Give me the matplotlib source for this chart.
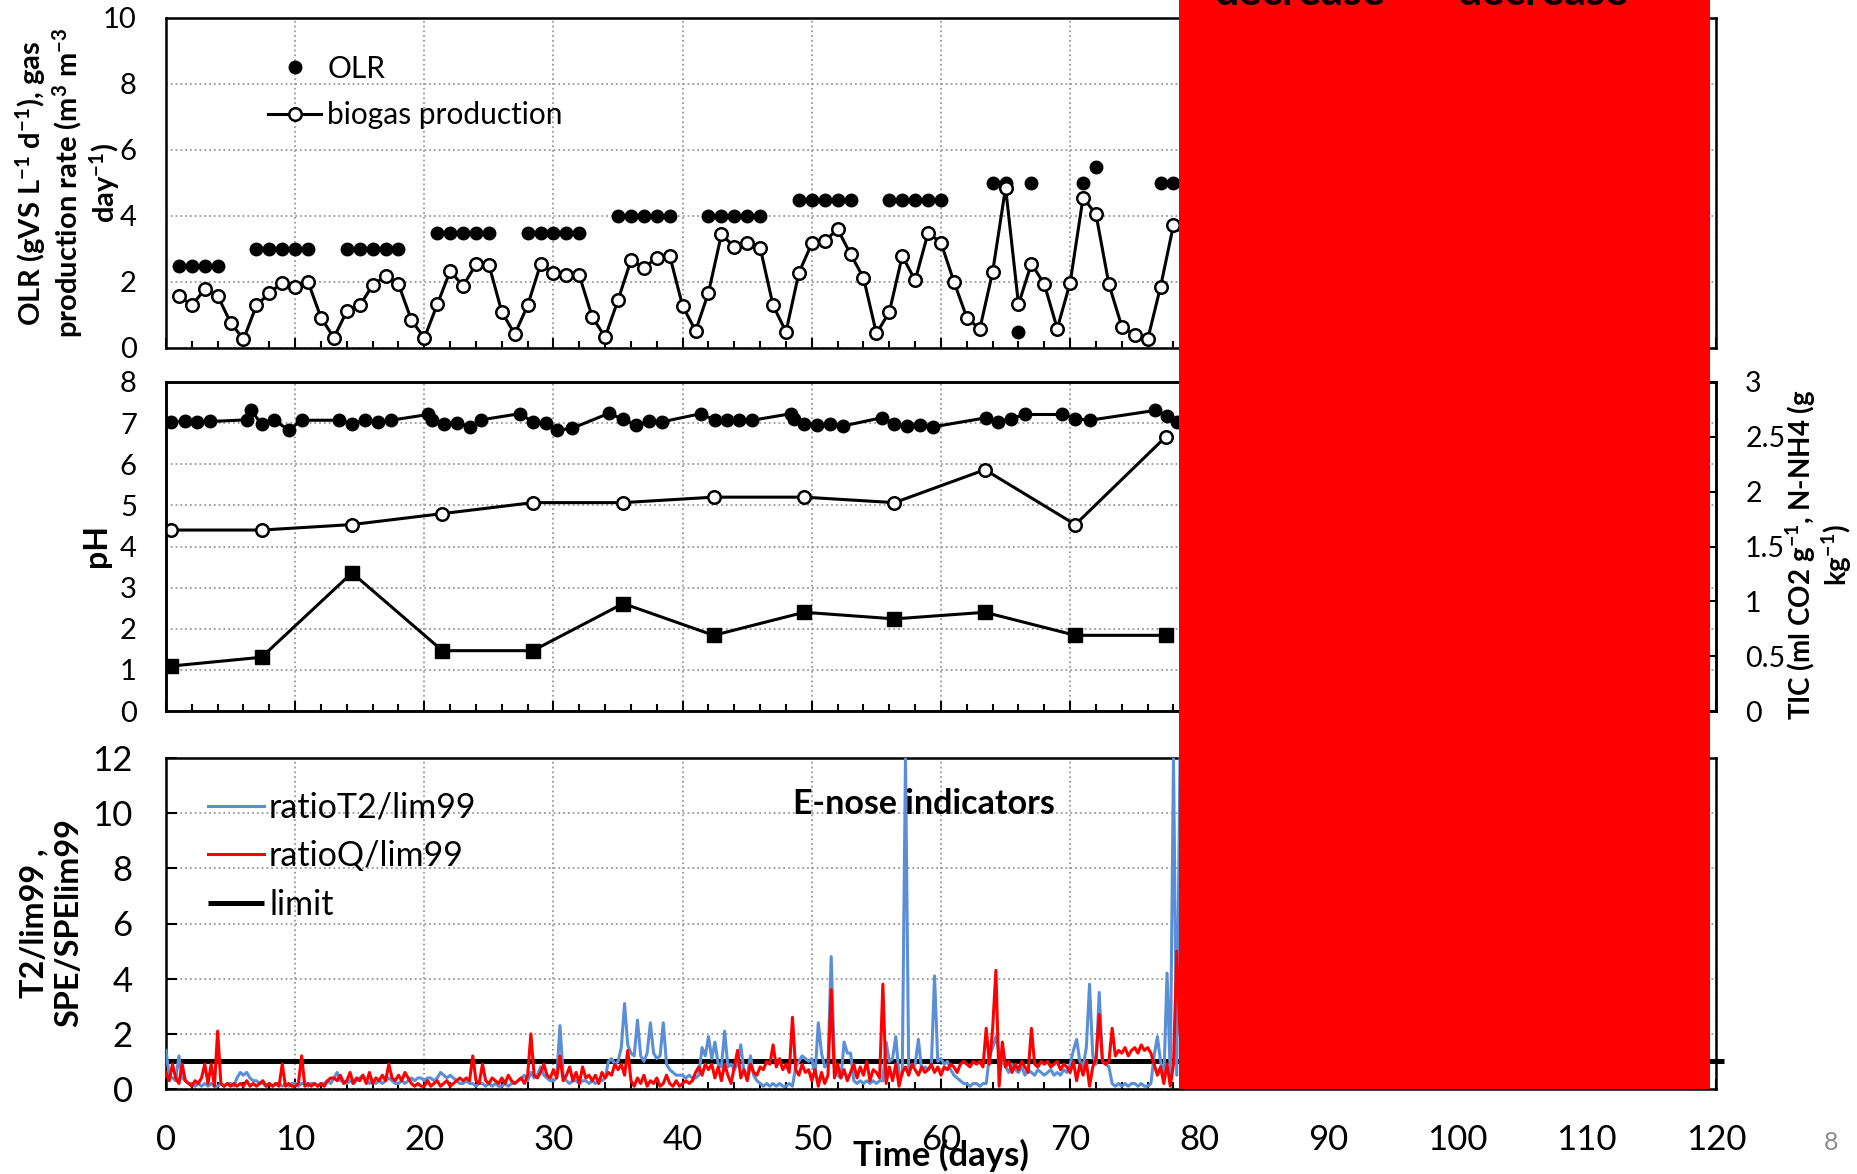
import numpy as np
import matplotlib
matplotlib.use("Agg")
import matplotlib.pyplot as plt
from matplotlib.patches import Rectangle
from matplotlib.lines import Line2D
from matplotlib.ticker import MultipleLocator, FuncFormatter

plt.rcParams['font.family'] = ['Lato', 'DejaVu Sans']
plt.rcParams['mathtext.fontset'] = 'custom'
plt.rcParams['mathtext.rm'] = 'Lato'
plt.rcParams['mathtext.bf'] = 'Lato:bold'
plt.rcParams['mathtext.default'] = 'bf'

# ---- top panel: OLR and biogas production ----
biogas_day = list(range(1, 80))
biogas = [1.58, 1.29, 1.78, 1.58, 0.77, 0.26, 1.29, 1.66, 1.98, 1.86,
          2.00, 0.92, 0.31, 1.12, 1.29, 1.90, 2.18, 1.93, 0.85, 0.30,
          1.32, 2.33, 1.88, 2.54, 2.52, 1.09, 0.42, 1.29, 2.54, 2.26,
          2.20, 2.20, 0.94, 0.33, 1.46, 2.66, 2.43, 2.74, 2.79, 1.27,
          0.52, 1.68, 3.44, 3.07, 3.17, 3.04, 1.29, 0.49, 2.28, 3.17,
          3.24, 3.60, 2.84, 2.13, 0.44, 1.09, 2.79, 2.05, 3.49, 3.19,
          2.01, 0.92, 0.57, 2.31, 4.86, 1.32, 2.56, 1.93, 0.59, 1.98,
          4.56, 4.05, 1.93, 0.65, 0.38, 0.26, 1.86, 3.73, 3.37]

olr_day = [1, 2, 3, 4, 7, 8, 9, 10, 11, 14, 15, 16, 17, 18,
           21, 22, 23, 24, 25, 28, 29, 30, 31, 32, 35, 36, 37, 38, 39,
           42, 43, 44, 45, 46, 49, 50, 51, 52, 53, 56, 57, 58, 59, 60,
           64, 65, 66, 67, 71, 72, 77, 78]
olr = [2.5, 2.5, 2.5, 2.5, 3.0, 3.0, 3.0, 3.0, 3.0, 3.0, 3.0, 3.0, 3.0, 3.0,
       3.5, 3.5, 3.5, 3.5, 3.5, 3.5, 3.5, 3.5, 3.5, 3.5, 4.0, 4.0, 4.0, 4.0, 4.0,
       4.0, 4.0, 4.0, 4.0, 4.0, 4.5, 4.5, 4.5, 4.5, 4.5, 4.5, 4.5, 4.5, 4.5, 4.5,
       5.0, 5.0, 0.5, 5.0, 5.0, 5.5, 5.0, 5.0]

# ---- middle panel: pH, TIC, N-NH4 ----
ph_day = [0.4, 1.5, 2.4, 3.4, 6.3, 6.6, 7.4, 8.4, 9.5, 10.5,
          13.4, 14.4, 15.4, 16.4, 17.4, 20.3, 20.6, 21.5, 22.5, 23.5, 24.4,
          27.4, 28.4, 29.4, 30.3, 31.4, 34.3, 35.4, 36.4, 37.4, 38.4,
          41.4, 42.5, 43.4, 44.4, 45.4, 48.4, 48.6, 49.4, 50.4, 51.4, 52.4,
          55.4, 56.4, 57.4, 58.4, 59.4, 63.5, 64.4, 65.4, 66.5,
          69.4, 70.4, 71.5, 76.6, 77.5, 78.3]
ph = [7.03, 7.04, 7.03, 7.04, 7.08, 7.31, 6.97, 7.07, 6.83, 7.07,
      7.07, 6.99, 7.07, 7.03, 7.07, 7.21, 7.08, 6.99, 7.01, 6.91, 7.08,
      7.23, 7.03, 7.00, 6.83, 6.87, 7.24, 7.09, 6.95, 7.04, 7.03,
      7.23, 7.07, 7.07, 7.07, 7.07, 7.23, 7.09, 6.97, 6.95, 6.97, 6.93,
      7.13, 6.99, 6.92, 6.95, 6.91, 7.13, 7.03, 7.11, 7.21,
      7.21, 7.11, 7.07, 7.31, 7.17, 7.03]

week_day = [0.4, 7.4, 14.4, 21.4, 28.4, 35.4, 42.4, 49.4, 56.4, 63.4, 70.4, 77.4]
tic = [1.65, 1.65, 1.70, 1.80, 1.90, 1.90, 1.95, 1.95, 1.90, 2.20, 1.70, 2.50]
nh4 = [0.41, 0.49, 1.26, 0.55, 0.55, 0.98, 0.69, 0.90, 0.84, 0.90, 0.69, 0.69]

# ---- bottom panel: E-nose indicators (tenths, every 0.25 day) ----
ratio_q = [
    6, 3, 9, 4, 2, 9, 3, 2, 1, 3, 2, 4, 9, 2, 9, 1, 21, 2, 1, 2,
    1, 2, 1, 2, 1, 3, 1, 2, 1, 2, 3, 1, 2, 1, 2, 1, 9, 1, 2, 1,
    1, 2, 12, 1, 2, 1, 2, 1, 2, 1, 3, 4, 4, 3, 5, 2, 3, 6, 2, 4,
    3, 5, 2, 6, 2, 4, 3, 5, 3, 9, 4, 3, 5, 3, 6, 4, 2, 1, 2, 1,
    1, 3, 1, 2, 3, 1, 2, 3, 1, 2, 3, 4, 3, 4, 3, 12, 3, 2, 9, 3,
    2, 4, 3, 2, 4, 2, 5, 3, 2, 3, 4, 2, 5, 20, 5, 4, 6, 9, 5, 4,
    7, 4, 12, 3, 5, 8, 3, 6, 2, 8, 4, 5, 3, 5, 2, 6, 4, 6, 5, 9,
    7, 9, 5, 14, 3, 1, 4, 2, 5, 1, 3, 2, 4, 1, 2, 5, 2, 1, 3, 1,
    2, 3, 2, 3, 6, 8, 5, 9, 7, 9, 4, 8, 3, 9, 5, 2, 8, 14, 4, 7,
    3, 9, 6, 5, 8, 7, 10, 9, 16, 8, 11, 7, 9, 6, 26, 7, 5, 9, 6, 7,
    3, 7, 1, 6, 2, 5, 36, 4, 9, 4, 7, 3, 6, 9, 4, 8, 5, 10, 3, 7,
    6, 4, 38, 2, 8, 3, 9, 1, 6, 8, 5, 9, 7, 5, 8, 6, 7, 9, 6, 8,
    5, 8, 7, 9, 8, 6, 9, 10, 9, 8, 10, 9, 10, 8, 22, 9, 22, 43, 1, 17,
    8, 10, 6, 9, 7, 10, 8, 6, 22, 9, 8, 10, 9, 10, 8, 9, 10, 7, 9, 8,
    6, 10, 3, 9, 5, 10, 1, 8, 11, 27, 10, 9, 10, 22, 12, 14, 13, 15, 12, 14,
    15, 13, 16, 14, 15, 13, 9, 5, 8, 2, 9, 1, 9, 50, 20]
ratio_t2 = [
    14, 5, 4, 3, 12, 4, 3, 2, 2, 1, 2, 1, 2, 1, 2, 1, 1, 2, 1, 2,
    2, 1, 4, 6, 5, 6, 4, 3, 3, 2, 2, 1, 2, 1, 2, 2, 1, 2, 1, 2,
    2, 1, 2, 2, 1, 2, 2, 1, 2, 2, 3, 2, 4, 6, 3, 3, 2, 3, 2, 3,
    4, 5, 3, 2, 3, 2, 3, 2, 3, 4, 3, 2, 2, 3, 2, 3, 4, 3, 4, 4,
    3, 4, 4, 3, 4, 6, 5, 4, 5, 4, 3, 2, 2, 3, 2, 2, 1, 2, 2, 1,
    2, 1, 2, 1, 1, 2, 1, 2, 2, 3, 4, 5, 3, 6, 4, 5, 8, 5, 4, 3,
    3, 4, 23, 5, 3, 2, 3, 3, 2, 3, 3, 2, 3, 2, 3, 3, 4, 10, 11, 9,
    10, 15, 31, 16, 13, 12, 25, 12, 10, 13, 24, 13, 11, 12, 24, 9, 7, 6, 5, 5,
    5, 4, 5, 4, 4, 5, 15, 12, 19, 11, 17, 9, 8, 21, 8, 9, 7, 9, 16, 6,
    5, 12, 5, 3, 2, 1, 2, 1, 2, 1, 2, 1, 1, 2, 1, 8, 10, 12, 11, 10,
    11, 5, 24, 13, 8, 9, 48, 8, 5, 4, 17, 13, 13, 3, 2, 3, 2, 3, 2, 3,
    2, 3, 3, 17, 10, 11, 19, 5, 5, 120, 7, 8, 9, 18, 7, 8, 7, 8, 41, 10,
    11, 9, 10, 7, 5, 4, 3, 2, 2, 1, 2, 2, 1, 2, 2, 12, 15, 19, 13, 10,
    8, 6, 9, 7, 6, 8, 5, 7, 6, 5, 7, 6, 5, 6, 7, 5, 6, 5, 7, 6,
    9, 14, 18, 10, 8, 15, 38, 12, 9, 35, 10, 9, 8, 2, 1, 2, 1, 2, 1, 2,
    2, 1, 2, 1, 1, 2, 12, 19, 10, 3, 42, 5, 120, 5, 120]
enose_t = np.arange(len(ratio_q)) * 0.25

x_ticks = [0, 10, 20, 30, 40, 50, 60, 70, 80, 90, 100, 110, 120]

W, H = 1858, 1174
fig = plt.figure(figsize=(W / 100, H / 100), dpi=100)


def box(top, bottom):
    return [166 / W, 1 - bottom / H, (1716 - 166) / W, (bottom - top) / H]


ax1 = fig.add_axes(box(18, 348))
ax2 = fig.add_axes(box(382, 711))
ax3 = fig.add_axes(box(758, 1089))

for ax in (ax1, ax2, ax3):
    ax.set_xlim(0, 120)
    ax.set_xticks(x_ticks)
    ax.xaxis.set_minor_locator(MultipleLocator(2))
    ax.tick_params(axis='x', which='both', direction='in', width=1.5)
    ax.tick_params(axis='x', which='major', length=7)
    ax.tick_params(axis='x', which='minor', length=5)
    ax.tick_params(axis='y', direction='in', length=0, pad=21, labelsize=21)
    ax.grid(True, which='major', color='#9a9a9a', linestyle=':', linewidth=1.3)
    ax.set_axisbelow(True)
    for s in ax.spines.values():
        s.set_linewidth(1.8)

ax1.tick_params(axis='x', labelbottom=False)
ax2.tick_params(axis='x', labelbottom=False)
ax3.tick_params(axis='x', labelsize=25, pad=25)
ax3.tick_params(axis='y', labelsize=25, pad=24, length=8, width=1.5)

# top panel
ax1.set_ylim(0, 10)
ax1.set_yticks([0, 2, 4, 6, 8, 10])
ax1.plot(olr_day, olr, 'o', color='black', markersize=9, zorder=3)
ax1.plot(biogas_day, biogas, '-o', color='black', lw=2.2, markersize=9,
         markerfacecolor='white', markeredgewidth=1.8, zorder=4)
h_olr = Line2D([], [], marker='o', linestyle='none', color='black', markersize=9)
h_bio = Line2D([], [], marker='o', linestyle='-', color='black', lw=2.2, markersize=9,
               markerfacecolor='white', markeredgewidth=1.8)
ax1.legend([h_olr, h_bio], ['OLR', 'biogas production'], loc='upper left',
           bbox_to_anchor=(0.066, 0.889), frameon=False, fontsize=21.5,
           handlelength=1.77, handletextpad=0.2, labelspacing=0.63,
           borderpad=0, borderaxespad=0)

# middle panel
ax2.set_ylim(0, 8)
ax2.set_yticks([0, 1, 2, 3, 4, 5, 6, 7, 8])
ax2.plot(ph_day, ph, '-o', color='black', lw=2.2, markersize=9, zorder=4)
ax2r = ax2.twinx()
ax2r.set_position(box(382, 711))
ax2r.set_ylim(0, 3)
ax2r.set_yticks([0, 0.5, 1, 1.5, 2, 2.5, 3])
ax2r.yaxis.set_major_formatter(FuncFormatter(lambda v, p: '%g' % v))
ax2r.tick_params(axis='y', direction='in', length=6, width=1.5, pad=21, labelsize=20.5)
for s in ax2r.spines.values():
    s.set_linewidth(1.8)
ax2r.plot(week_day, tic, '-o', color='black', lw=2.2, markersize=9,
          markerfacecolor='white', markeredgewidth=1.8)
ax2r.plot(week_day, nh4, '-s', color='black', lw=2.2, markersize=10)

# bottom panel
ax3.set_ylim(0, 12)
ax3.set_yticks([0, 2, 4, 6, 8, 10, 12])
ax3.plot(enose_t, np.array(ratio_t2) / 10, color='#5a8fd8', lw=2.2, zorder=3,
         label='ratioT2/lim99')
ax3.plot(enose_t, np.array(ratio_q) / 10, color='#ff0000', lw=2.2, zorder=4,
         label='ratioQ/lim99')
ax3.plot([0, 120.6], [1, 1], color='black', lw=3.6, zorder=2.5, clip_on=False,
         solid_capstyle='butt', label='limit')
ax3.legend(loc='upper left', bbox_to_anchor=(0.027, 0.899), frameon=False,
           fontsize=24.5, handlelength=1.65, handletextpad=0.15, labelspacing=0.49,
           borderpad=0, borderaxespad=0)
ax3.text(0.489, 0.862, 'E-nose indicators', transform=ax3.transAxes, ha='center',
         va='center', fontsize=24.5, fontweight='bold')
ax3.set_xticklabels([str(v) for v in x_ticks])

# axis titles
fig.text(68 / W, 1 - 183 / H,
         'OLR (gVS L$^{-1}$ d$^{-1}$), gas\nproduction rate (m$^{3}$ m$^{-3}$\nday$^{-1}$)',
         rotation=90, ha='center', va='center', multialignment='center',
         fontsize=21, fontweight='bold', linespacing=1.08)
fig.text(97 / W, 1 - 545 / H, 'pH', rotation=90, ha='center', va='center',
         fontsize=23, fontweight='bold')
fig.text(51 / W, 1 - 923 / H, 'T2/lim99 ,\nSPE/SPElim99', rotation=90,
         ha='center', va='center', multialignment='center',
         fontsize=23.3, fontweight='bold', linespacing=1.25)
fig.text(1819 / W, 1 - 555 / H, 'TIC (ml CO2 g$^{-1}$, N-NH4 (g\nkg$^{-1}$)',
         rotation=90, ha='center', va='center', multialignment='center',
         fontsize=20, fontweight='bold', linespacing=1.05)
fig.text(941 / W, 1 - 1155 / H, 'Time (days)', ha='center', va='center',
         fontsize=25, fontweight='bold')
fig.text(1831 / W, 1 - 1143 / H, '8', ha='center', va='center',
         fontsize=18, color='#8c8c8c')

# red cover box and the clipped words above it
fig.add_artist(Rectangle((1179 / W, 1 - 1089 / H), (1710 - 1179) / W, 1089 / H,
                         transform=fig.transFigure, facecolor='#ff0000',
                         edgecolor='none', zorder=10))
for cx in (1300, 1543):
    fig.text(cx / W, 1 - 5 / H, 'decrease', ha='center', va='baseline',
             fontsize=31, fontweight='bold', color='black', zorder=11)

fig.savefig('out.png', dpi=100)
